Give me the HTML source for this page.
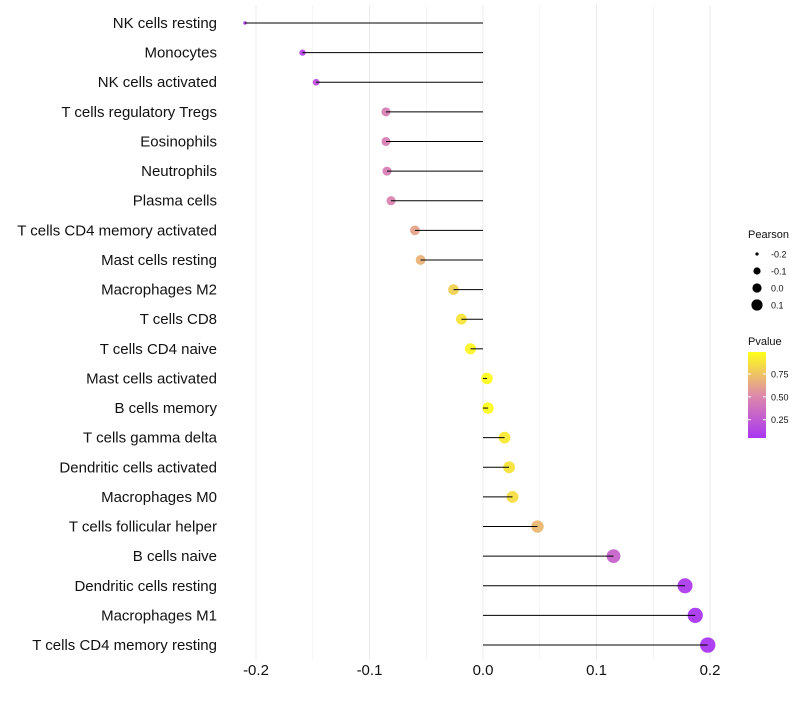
<!DOCTYPE html>
<html><head><meta charset="utf-8"><style>
body{margin:0;background:#fff;font-family:"Liberation Sans",sans-serif}
svg text{font-family:"Liberation Sans",sans-serif}
</style></head><body>
<svg id="c" width="800" height="700"></svg>
<script>
const categories=["NK cells resting","Monocytes","NK cells activated","T cells regulatory  Tregs ","Eosinophils","Neutrophils","Plasma cells","T cells CD4 memory activated","Mast cells resting","Macrophages M2","T cells CD8","T cells CD4 naive","Mast cells activated","B cells memory","T cells gamma delta","Dendritic cells activated","Macrophages M0","T cells follicular helper","B cells naive","Dendritic cells resting","Macrophages M1","T cells CD4 memory resting"];
const pearson=[-0.2097,-0.159,-0.147,-0.0855,-0.0855,-0.0846,-0.081,-0.060,-0.055,-0.026,-0.019,-0.011,0.0035,0.0044,0.019,0.023,0.026,0.048,0.115,0.178,0.187,0.198];
const pvalue=[0.03,0.15,0.2,0.45,0.45,0.45,0.48,0.62,0.68,0.8,0.88,0.95,0.98,0.98,0.9,0.88,0.85,0.7,0.3,0.08,0.05,0.02];
const xTicks=[-0.2,-0.1,0.0,0.1,0.2];
const xTickLabels=["-0.2","-0.1","0.0","0.1","0.2"];
const sizeLegend=[-0.2,-0.1,0.0,0.1];
const colorLegend=[0.25,0.5,0.75];

const NS="http://www.w3.org/2000/svg",svg=document.getElementById('c');
function mk(t,a,p){const e=document.createElementNS(NS,t);for(const k in a)e.setAttribute(k,a[k]);(p||svg).appendChild(e);return e;}
const x=v=>483+v*1135;
const y=i=>23+i*29.62;
const rad=v=>Math.sqrt(Math.max(2.25,3+(v+0.2097)*138));
function lerp(a,b,t){return a.map((c,i)=>Math.round(c+(b[i]-c)*t));}
function col(p){const lo=[160,32,240],mid=[218,126,160],hi=[255,255,0];
 let t=(p-0.05)/(0.99-0.05);t=Math.max(0,Math.min(1,t));
 const c=t<0.5?lerp(lo,mid,t*2):lerp(mid,hi,(t-0.5)*2);return `rgb(${c})`;}
for(let v=-0.2;v<=0.2001;v+=0.05){const l=mk('line',{x1:x(v),x2:x(v),y1:5,y2:660,stroke:'#ebebeb','stroke-width':Math.abs(Math.round(v*100)%10)<1?1:0.5});
}
xTicks.forEach((v,i)=>{const t=mk('text',{x:x(v),y:675,'text-anchor':'middle','font-size':15,fill:'#111'});t.textContent=xTickLabels[i];
});
categories.forEach((c,i)=>{
 const t=mk('text',{x:217,y:y(i)+5,'text-anchor':'end','font-size':15,fill:'#111'});t.textContent=c;
 
 const d=mk('circle',{cx:x(pearson[i]),cy:y(i),r:rad(pearson[i]),fill:col(pvalue[i]),'fill-opacity':0.85});
 
 const l=mk('line',{x1:x(0),x2:x(pearson[i]),y1:y(i),y2:y(i),stroke:'#000','stroke-width':1});
 
});
let t=mk('text',{x:748,y:238,'font-size':11,fill:'#111'});t.textContent='Pearson';

const lr=[1.6,3.6,4.6,5.6];
sizeLegend.forEach((v,i)=>{const cy=254+i*17;
 const c=mk('circle',{cx:757,cy:cy,r:lr[i],fill:'#000'});
 const tt=mk('text',{x:771,y:cy+3.5,'font-size':9,fill:'#111'});tt.textContent=v.toFixed(1);
 });
t=mk('text',{x:748,y:345,'font-size':11,fill:'#111'});t.textContent='Pvalue';

const g=mk('defs',{});const lg=mk('linearGradient',{id:'pg',x1:0,y1:1,x2:0,y2:0},g);
for(let k=0;k<=10;k++){mk('stop',{offset:k/10,'stop-color':col(0.05+0.94*k/10)},lg);}
const cb=mk('rect',{x:748,y:352,width:18,height:86,fill:'url(#pg)','fill-opacity':0.9});

const py=p=>438-(p-0.05)/0.94*86;
colorLegend.forEach(p=>{mk('line',{x1:748,x2:751,y1:py(p),y2:py(p),stroke:'#fff'});mk('line',{x1:763,x2:766,y1:py(p),y2:py(p),stroke:'#fff'});
 const tt=mk('text',{x:771,y:py(p)+3.5,'font-size':9,fill:'#111'});tt.textContent=p.toFixed(2);
 });
</script></body></html>
